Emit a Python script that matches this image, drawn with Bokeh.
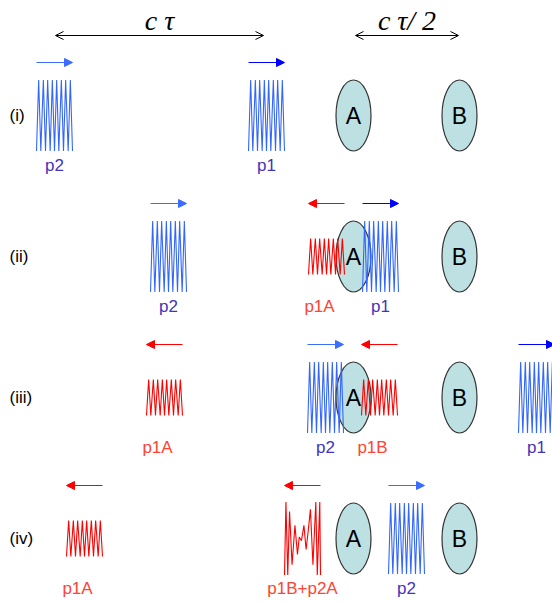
from bokeh.plotting import figure
from bokeh.models import Range1d, Arrow, NormalHead, OpenHead
from bokeh.embed import file_html
from bokeh.resources import INLINE
from bokeh.core.properties import value

# the four stages of the sequence
row_names = ["(i)", "(ii)", "(iii)", "(iv)"]
row_y = [115, 256, 397, 538]

# the two atoms / samples
mirror_names = ["A", "B"]
mirror_x = [353, 459]

# pulses: name, stage, left edge, kind (fwd = travelling right, back = echo travelling left)
pulse_names = ["p2", "p1", "p2", "p1A", "p1", "p1A", "p2", "p1B", "p1", "p1A", "p1B+p2A", "p2"]
pulse_row = [0, 0, 1, 1, 1, 2, 2, 2, 2, 3, 3, 3]
pulse_left = [36, 248, 150, 308, 362, 146, 307, 361, 518, 66, 284, 388]
pulse_kind = ["fwd", "fwd", "fwd", "back", "fwd", "back", "fwd", "back", "fwd", "back", "mix", "fwd"]

# delay markers on top
span_labels = ["c τ", "c τ/ 2"]
span_start = [55, 355]
span_end = [263, 458]

# carrier shape (fraction of pulse width, fraction of pulse height)
zig_fx = [0.0, 0.06, 0.12, 0.19, 0.25, 0.31, 0.38, 0.44, 0.5,
          0.56, 0.62, 0.69, 0.75, 0.81, 0.88, 0.94, 1.0]
zig_fy = [0.5, -0.5, 0.5, -0.5, 0.5, -0.5, 0.5, -0.5, 0.5,
          -0.5, 0.5, -0.5, 0.5, -0.5, 0.5, -0.5, 0.5]
# superposed echo in stage (iv)
mix_fx = [0.0, 0.04, 0.09, 0.14, 0.21, 0.29, 0.36, 0.41, 0.47,
          0.54, 0.6, 0.66, 0.72, 0.79, 0.87, 0.91, 0.98, 1.0]
mix_fy = [0.5, -0.5, 0.5, -0.37, 0.36, -0.18, 0.22, -0.02, 0.03,
          -0.18, 0.15, -0.11, -0.4, 0.36, -0.5, 0.5, -0.5, 0.5]

BLUE = "#3366ff"
DARK_BLUE = "#0000ff"
RED = "#ff0000"
LBL_BLUE = "#4433bb"
LBL_RED = "#ff4433"
SANS = value("Liberation Sans")

pulse_w = 36
pulse_h = {"fwd": 71, "back": 36, "mix": 73}

p = figure(width=552, height=602, x_range=Range1d(0, 552), y_range=Range1d(602, 0),
           x_axis_type=None, y_axis_type=None, output_backend="svg",
           toolbar_location=None, min_border=0)
p.grid.visible = False
p.outline_line_color = None

# atoms
ex, ey, et = [], [], []
for y in row_y:
    for name, x in zip(mirror_names, mirror_x):
        ex.append(x)
        ey.append(y)
        et.append(name)
p.ellipse(x=ex, y=ey, width=35, height=71, fill_color="#bde0e3",
          line_color="#333333", line_width=1.2)

# pulses
xs, ys, cols = [], [], []
for name, r, left, kind in zip(pulse_names, pulse_row, pulse_left, pulse_kind):
    h = pulse_h[kind]
    fx, fy = (mix_fx, mix_fy) if kind == "mix" else (zig_fx, zig_fy)
    xs.append([left + f * pulse_w for f in fx])
    ys.append([row_y[r] + f * h for f in fy])
    cols.append(BLUE if kind == "fwd" else RED)
p.multi_line(xs=xs, ys=ys, line_color=cols, line_width=1.1)

# direction arrows above each pulse
for name, r, left, kind in zip(pulse_names, pulse_row, pulse_left, pulse_kind):
    y = row_y[r] - 53
    if kind == "fwd":
        c = DARK_BLUE if name == "p1" else "#3d6dff"
        x0, x1 = left, left + pulse_w
    else:
        c = RED
        x0, x1 = left + pulse_w, left
    p.add_layout(Arrow(end=NormalHead(size=8, fill_color=c, line_color=c),
                       x_start=x0, y_start=y, x_end=x1, y_end=y,
                       line_color=c, line_width=1.2))

# pulse names
lx, ly, lt, lc = [], [], [], []
for name, r, left, kind in zip(pulse_names, pulse_row, pulse_left, pulse_kind):
    shift = -7 if kind == "back" else 0
    lx.append(left + pulse_w / 2 + shift)
    ly.append(row_y[r] + 50)
    lt.append(name)
    lc.append(LBL_BLUE if kind == "fwd" else LBL_RED)
p.text(x=lx, y=ly, text=lt, text_color=lc, text_font=SANS, text_font_size="17px",
       text_align="center", text_baseline="middle")

# atom letters
p.text(x=ex, y=ey, text=et, text_color="black", text_font=SANS, text_font_size="23px",
       text_align="center", text_baseline="middle")

# stage labels
p.text(x=[9] * len(row_y), y=row_y, text=row_names, text_color="black", text_font=SANS,
       text_font_size="17px", text_align="left", text_baseline="middle")

# delay spans
for lab, a, b in zip(span_labels, span_start, span_end):
    p.add_layout(Arrow(start=OpenHead(size=8, line_width=1), end=OpenHead(size=8, line_width=1),
                       x_start=a, y_start=35, x_end=b, y_end=35,
                       line_color="black", line_width=1))
    p.text(x=[(a + b) / 2], y=[20], text=[lab], text_font=value("Liberation Serif"),
           text_font_style="italic", text_font_size="28px", text_align="center",
           text_baseline="middle", text_color="black")

open("out.html", "w").write(file_html(p, INLINE))
